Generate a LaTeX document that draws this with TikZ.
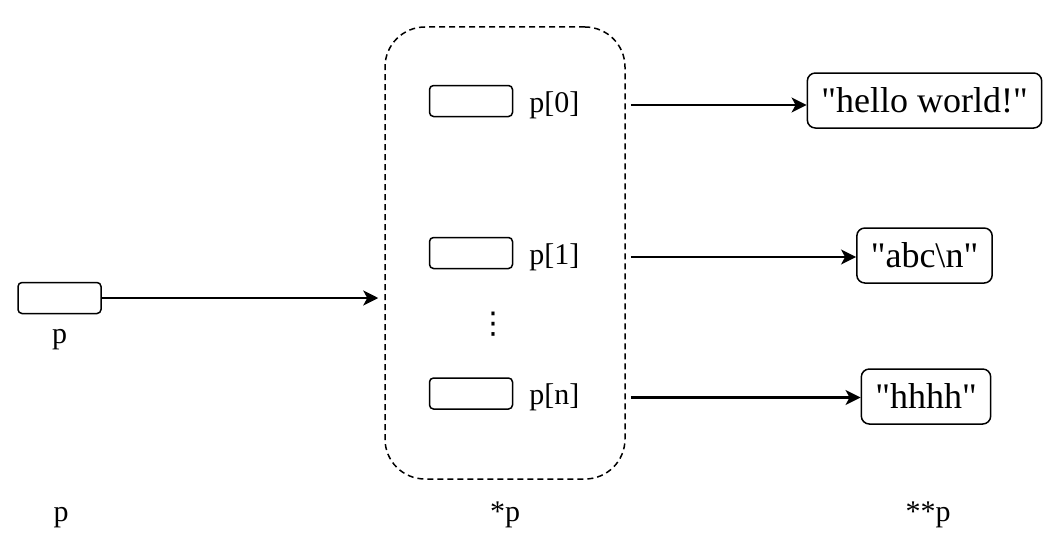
\documentclass[tikz,border=0pt]{standalone}
\usepackage{fontspec}
\setmainfont{Liberation Serif}
\newfontfamily\symfont{DejaVu Sans}
\usetikzlibrary{arrows.meta,positioning}

\begin{document}
\begin{tikzpicture}[
  x=1pt, y=-1pt,
  cell/.style={draw, rounded corners=4pt, line width=1.5pt, minimum width=83pt, minimum height=31pt},
  str/.style={draw, rounded corners=8pt, line width=1.5pt, minimum height=55pt, inner xsep=14pt, font=\fontsize{36}{40}\selectfont},
  lbl/.style={font=\fontsize{30}{34}\selectfont, inner sep=0pt},
  ptr/.style={-{Stealth[length=15pt,width=15pt,inset=4pt]}, line width=2.2pt}
]
  \useasboundingbox (0,0) rectangle (1059,551);

  % the array of pointers
  \node[draw, dash pattern=on 6pt off 4pt, line width=1.5pt, rounded corners=40pt,
        minimum width=240pt, minimum height=452pt] (arr) at (505,253) {};

  \node[cell] (p) at (59.5,298) {};
  \node[lbl] (pname) [below=15pt of p] {p};

  \node[cell] (c0) at (471,101) {};
  \node[cell] (c1) at (471,253) {};
  \node[cell] (cn) at (471,393.5) {};
  \node[lbl] (l0) [right=16pt of c0, yshift=-4pt] {p[0]};
  \node[lbl] (l1) [right=16pt of c1, yshift=-4pt] {p[1]};
  \node[lbl] (ln) [right=16pt of cn, yshift=-4pt] {p[n]};
  \node[lbl, font=\symfont\fontsize{30}{34}\selectfont] (dots) at (493,324) {⋮};

  % the strings
  \node[str] (s0) at (924.5,100.5) {\textquotedbl hello world!\textquotedbl};
  \node[str] (s1) at (924.5,255.5) {\textquotedbl abc\textbackslash n\textquotedbl};
  \node[str] (s2) at (926,396.5) {\textquotedbl hhhh\textquotedbl};

  % captions
  \node[lbl, anchor=base] (b0) at (61,521) {p};
  \node[lbl, anchor=base] (b1) at (505,521) {*p};
  \node[lbl, anchor=base] (b2) at (928,521) {**p};

  \draw[ptr, shorten >=6pt] (p.east) -- (p.east -| arr.west);
  \foreach \src/\dst in {l0/s0, l1/s1, ln/s2}
    \draw[ptr, shorten <=5pt] (\src -| arr.east) -- (\src -| \dst.west);
\end{tikzpicture}
\end{document}
